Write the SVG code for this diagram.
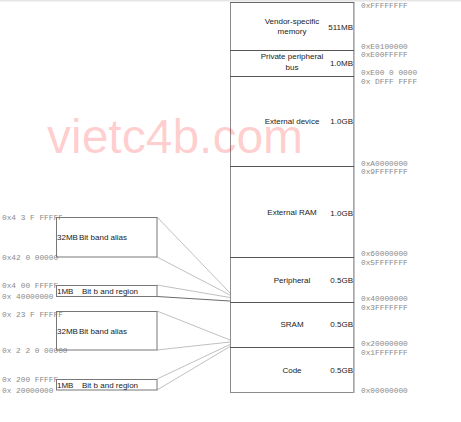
<svg xmlns="http://www.w3.org/2000/svg" width="461" height="422" viewBox="0 0 461 422">
<style>
.lbl{font-family:"Liberation Sans",Arial,sans-serif;font-size:8px;fill:#222}
.c{text-anchor:middle}
.r{text-anchor:end}
.addr{font-family:"Liberation Mono","Courier New",monospace;font-size:7.8px;fill:#8a8a8a}
.div{stroke:#555;stroke-width:1}
.box{fill:#fff;stroke:#777;stroke-width:1}
.con{stroke:#b0b0b0;stroke-width:0.8;fill:none}
</style>
<rect x="0" y="0" width="461" height="422" fill="#fff"/>
<rect x="0" y="0" width="461" height="1.5" fill="#e6e6e6"/>
<g id="memory-map">
<rect x="230.5" y="2.5" width="123" height="390" fill="#fff" stroke="#8c8c8c" stroke-width="1"/>
<line x1="354" y1="2" x2="354" y2="393" stroke="#b0b0b0" stroke-width="1.5"/>
<line x1="230" y1="2.5" x2="354" y2="2.5" stroke="#666"/>
</g>
<g id="region-vendor">
<line class="div" x1="230" y1="50.5" x2="354" y2="50.5"/>
<text class="lbl c" x="292" y="24">Vendor-specific</text>
<text class="lbl c" x="292" y="34">memory</text>
<text class="lbl r" x="353" y="30">511MB</text>
</g>
<g id="region-ppb">
<line class="div" x1="230" y1="76.5" x2="354" y2="76.5"/>
<text class="lbl c" x="292" y="59">Private peripheral</text>
<text class="lbl c" x="292" y="70">bus</text>
<text class="lbl r" x="353" y="66">1.0MB</text>
</g>
<g id="region-extdev">
<line class="div" x1="230" y1="166.5" x2="354" y2="166.5"/>
<text class="lbl c" x="292" y="124">External device</text>
<text class="lbl r" x="353" y="124">1.0GB</text>
</g>
<g id="region-extram">
<line class="div" x1="230" y1="257.5" x2="354" y2="257.5"/>
<text class="lbl c" x="292" y="215">External RAM</text>
<text class="lbl r" x="353" y="216">1.0GB</text>
</g>
<g id="region-peripheral">
<line class="div" x1="230" y1="302.5" x2="354" y2="302.5"/>
<text class="lbl c" x="292" y="283">Peripheral</text>
<text class="lbl r" x="353" y="283">0.5GB</text>
</g>
<g id="region-sram">
<line class="div" x1="230" y1="347.5" x2="354" y2="347.5"/>
<text class="lbl c" x="292" y="327">SRAM</text>
<text class="lbl r" x="353" y="327">0.5GB</text>
</g>
<g id="region-code">
<text class="lbl c" x="292" y="373">Code</text>
<text class="lbl r" x="353" y="373">0.5GB</text>
</g>
<g id="addresses">
<text class="addr" x="361" y="8">0xFFFFFFFF</text>
<text class="addr" x="361" y="49">0xE0100000</text>
<text class="addr" x="361" y="57">0xE00FFFFF</text>
<text class="addr" x="361" y="75">0xE00 0 0000</text>
<text class="addr" x="361" y="84">0x DFFF FFFF</text>
<text class="addr" x="361" y="166">0xA0000000</text>
<text class="addr" x="361" y="174">0x9FFFFFFF</text>
<text class="addr" x="361" y="256">0x60000000</text>
<text class="addr" x="361" y="265">0x5FFFFFFF</text>
<text class="addr" x="361" y="301">0x40000000</text>
<text class="addr" x="361" y="310">0x3FFFFFFF</text>
<text class="addr" x="361" y="346">0x20000000</text>
<text class="addr" x="361" y="355">0x1FFFFFFF</text>
<text class="addr" x="361" y="393">0x00000000</text>
</g>
<g id="connectors">
<line class="con" x1="157" y1="217" x2="230" y2="293"/>
<line class="con" x1="157" y1="257" x2="230" y2="295"/>
<line class="con" x1="157" y1="285" x2="230" y2="297.5"/>
<line x1="157" y1="296.5" x2="230" y2="301" stroke="#444" stroke-width="0.8"/>
<line class="con" x1="157" y1="311" x2="230" y2="340"/>
<line class="con" x1="157" y1="350" x2="230" y2="342"/>
<line class="con" x1="157" y1="379" x2="230" y2="344.5"/>
<line class="con" x1="157" y1="390" x2="230" y2="346.5"/>
</g>
<g id="alias-peripheral">
<text class="addr" x="2" y="220">0x4 3 F FFFFF</text>
<text class="addr" x="2" y="260">0x42 0 00000</text>
<rect class="box" x="56.5" y="217.5" width="100.5" height="39.5" fill-opacity="0"/>
<text class="lbl" x="57" y="240">32MB</text>
<text class="lbl" x="79" y="240">Bit band alias</text>
</g>
<g id="bitband-peripheral">
<text class="addr" x="2" y="288">0x4 00 FFFFF</text>
<text class="addr" x="2" y="299">0x 40000000</text>
<rect class="box" x="56.5" y="285.5" width="100.5" height="11" fill-opacity="0"/>
<text class="lbl" x="57" y="294">1MB</text>
<text class="lbl" x="82" y="294">Bit b and region</text>
</g>
<g id="alias-sram">
<text class="addr" x="2" y="317">0x 23 F FFFFF</text>
<text class="addr" x="2" y="353">0x 2 2 0 00000</text>
<rect class="box" x="56.5" y="311.5" width="100.5" height="38.5" fill-opacity="0"/>
<text class="lbl" x="57" y="334">32MB</text>
<text class="lbl" x="79" y="334">Bit band alias</text>
</g>
<g id="bitband-sram">
<text class="addr" x="2" y="382">0x 200 FFFFF</text>
<text class="addr" x="2" y="393">0x 20000000</text>
<rect class="box" x="56.5" y="379.5" width="100.5" height="10.5" fill-opacity="0"/>
<text class="lbl" x="57" y="388">1MB</text>
<text class="lbl" x="82" y="388">Bit b and region</text>
</g>
<text x="47" y="153" font-family="'Liberation Sans',Arial,sans-serif" font-size="48" fill="#ff0000" fill-opacity="0.2">vietc4b.com</text>
</svg>
